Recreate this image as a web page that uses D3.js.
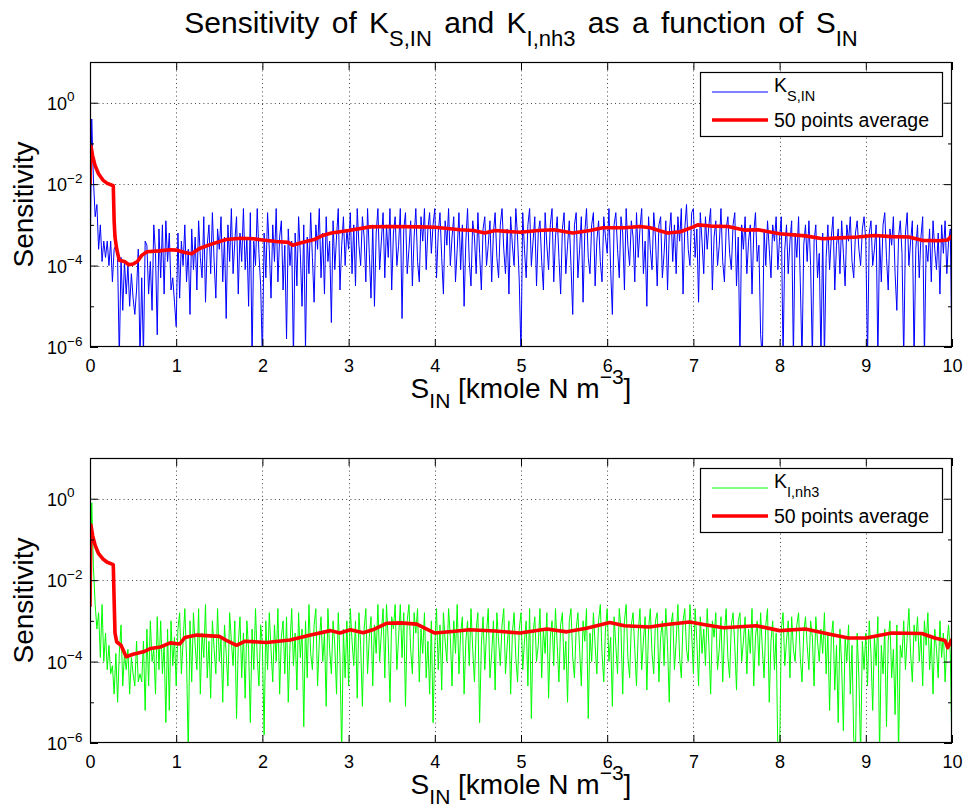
<!DOCTYPE html>
<html><head><meta charset="utf-8">
<script src="https://cdn.jsdelivr.net/npm/d3@7/dist/d3.min.js"></script>
<style>
body{margin:0;background:#fff}
text{font-family:"Liberation Sans",Arial,Helvetica,sans-serif;fill:#000}
</style>
</head><body>
<svg id="c" width="965" height="808"></svg>
<script>
// ---------------- DATA ----------------
const xDomain = [0, 10];
const xTicks = [0,1,2,3,4,5,6,7,8,9,10];
const yMajorExp = [0,-2,-4,-6];
const yMinorExp = [-1,-3,-5];

// K_S,IN sensitivity, log10 values, 501 points evenly spaced over S_IN = 0..10
const ksinExp = [
-4.3,-0.4,-1.9,-2.8,-2.5,-3.6,-3.0,-3.9,-3.4,-3.8,
-3.4,-4.0,-3.4,-4.4,-3.6,-3.5,-3.8,-6.3,-3.8,-5.1,
-3.9,-4.7,-4.0,-5.0,-4.2,-4.8,-5.2,-4.6,-3.6,-6.3,
-4.3,-6.2,-3.4,-3.5,-4.7,-3.9,-5.1,-3.0,-3.7,-5.7,
-3.1,-4.3,-3.0,-4.7,-2.9,-3.9,-3.2,-4.6,-4.3,-4.9,
-5.5,-3.2,-4.8,-3.4,-4.0,-3.0,-4.4,-3.6,-5.2,-3.1,
-4.1,-3.3,-4.6,-2.9,-3.8,-4.3,-2.8,-4.9,-3.5,-3.0,
-4.2,-2.7,-3.9,-4.8,-3.1,-3.6,-2.8,-4.4,-3.3,-5.3,
-3.0,-3.9,-2.6,-4.2,-3.4,-2.8,-4.7,-3.2,-3.9,-2.6,
-4.1,-3.3,-5.0,-2.7,-6.3,-3.4,-4.0,-2.6,-3.7,-4.5,
-6.3,-3.2,-4.3,-2.7,-3.6,-4.8,-3.0,-3.9,-2.6,-4.4,
-3.3,-2.9,-4.6,-3.5,-5.8,-3.1,-4.0,-3.4,-6.3,-3.2,
-4.5,-2.8,-3.7,-5.0,-3.0,-6.1,-3.3,-4.2,-2.7,-3.8,
-4.9,-3.0,-3.6,-2.6,-4.3,-3.2,-4.7,-2.8,-3.9,-3.4,
-5.4,-2.9,-4.1,-3.3,-2.6,-4.6,-3.5,-2.8,-4.0,-3.1,
-3.6,-2.7,-4.2,-3.0,-4.5,-2.6,-3.5,-4.0,-2.8,-3.3,
-4.4,-2.6,-3.7,-4.8,-3.0,-5.0,-3.2,-2.6,-4.1,-3.4,
-2.7,-4.3,-3.0,-3.8,-2.6,-4.6,-3.2,-2.8,-4.0,-3.5,
-2.6,-5.3,-3.1,-2.7,-4.2,-3.6,-2.9,-4.5,-3.3,-2.6,
-3.9,-4.4,-2.8,-3.4,-2.6,-4.1,-3.1,-2.7,-3.7,-3.0,
-2.6,-4.3,-3.2,-2.7,-3.8,-4.7,-2.9,-3.5,-2.6,-4.0,
-3.3,-2.8,-4.4,-3.6,-2.7,-4.1,-3.0,-5.0,-3.4,-2.6,
-3.9,-4.5,-2.9,-3.3,-4.2,-2.7,-3.7,-4.6,-3.1,-2.8,
-4.0,-3.5,-2.9,-4.4,-3.2,-2.7,-3.8,-4.3,-3.0,-2.6,
-3.6,-4.2,-3.1,-4.7,-2.8,-3.5,-4.0,-2.6,-3.3,-4.4,
-6.2,-2.7,-3.6,-4.3,-3.0,-2.6,-4.0,-3.4,-2.8,-4.5,
-3.2,-2.9,-3.9,-4.6,-2.7,-3.5,-4.1,-3.0,-2.6,-4.4,
-3.3,-2.8,-3.8,-4.7,-3.1,-2.7,-4.2,-3.5,-2.9,-4.0,
-5.2,-3.0,-2.7,-4.3,-3.6,-2.8,-4.9,-3.2,-2.6,-3.8,
-4.2,-3.0,-2.7,-4.5,-3.4,-2.9,-3.9,-4.4,-2.8,-3.3,
-3.7,-2.6,-4.1,-5.2,-3.0,-2.7,-3.6,-4.3,-2.8,-3.2,
-4.6,-2.6,-3.5,-4.0,-2.9,-3.3,-4.4,-2.7,-3.8,-3.1,
-2.6,-4.2,-3.4,-5.0,-2.8,-3.6,-4.1,-2.7,-3.3,-4.5,
-3.0,-2.8,-4.3,-3.7,-2.9,-4.6,-3.2,-2.7,-3.9,-3.0,
-4.2,-2.8,-3.4,-2.6,-4.7,-3.1,-2.5,-3.6,-4.0,-2.7,
-2.6,-3.8,-3.1,-4.9,-2.7,-3.4,-4.2,-2.8,-3.6,-3.0,
-2.6,-4.6,-3.3,-2.9,-4.0,-3.5,-2.6,-3.9,-4.4,-3.1,
-2.8,-3.7,-4.1,-3.0,-2.7,-4.5,-3.3,-6.3,-3.0,-3.6,
-2.8,-4.2,-3.4,-3.0,-4.7,-3.2,-2.7,-3.9,-3.5,-5.7,
-6.3,-3.1,-4.0,-2.9,-3.6,-4.3,-3.0,-3.4,-2.8,-4.1,
-3.3,-2.8,-6.3,-3.6,-3.0,-4.2,-3.4,-2.9,-6.3,-3.2,
-3.8,-2.8,-4.4,-6.3,-3.5,-3.0,-3.9,-2.9,-4.0,-6.3,
-3.4,-3.0,-4.3,-3.7,-6.3,-3.2,-6.3,-3.8,-3.0,-4.1,
-3.3,-2.8,-4.6,-3.5,-3.1,-4.2,-2.9,-3.7,-4.5,-3.0,
-3.4,-2.8,-3.9,-4.3,-3.2,-2.9,-3.6,-4.0,-3.1,-2.8,
-3.4,-6.3,-3.2,-2.9,-4.0,-3.6,-3.0,-6.3,-3.3,-4.4,
-3.0,-2.7,-3.8,-4.6,-3.1,-3.5,-2.8,-4.2,-5.1,-3.3,
-2.9,-3.7,-6.3,-3.2,-2.7,-4.0,-3.4,-2.9,-6.3,-3.6,
-3.0,-4.3,-3.3,-2.8,-6.3,-3.5,-3.9,-3.1,-4.4,-2.9,
-3.6,-4.1,-3.2,-4.7,-3.0,-3.7,-2.9,-4.2,-3.4,-3.1,
-6.3];

// K_I,nh3 sensitivity, log10 values, 501 points evenly spaced over S_IN = 0..10
const kinh3Exp = [
-2.9,-0.1,-1.7,-2.6,-3.2,-2.8,-3.9,-2.6,-4.0,-3.3,
-4.2,-3.6,-4.3,-4.1,-4.8,-3.8,-5.0,-3.8,-3.1,-4.6,
-3.8,-4.2,-3.7,-4.8,-3.9,-4.3,-4.6,-3.5,-4.5,-4.3,
-4.5,-3.5,-5.2,-3.2,-4.6,-3.0,-4.0,-3.7,-4.8,-2.9,
-4.2,-3.0,-4.3,-3.6,-5.5,-3.2,-5.2,-3.0,-4.1,-3.4,
-4.6,-3.2,-2.8,-4.3,-3.5,-2.7,-3.9,-6.3,-3.0,-4.5,
-2.8,-3.6,-4.2,-2.7,-4.8,-3.3,-3.9,-2.6,-4.4,-3.5,
-4.9,-3.0,-3.7,-4.3,-2.7,-4.0,-3.4,-5.0,-3.1,-3.8,
-4.6,-2.8,-3.5,-4.1,-3.0,-5.4,-3.6,-2.9,-4.4,-3.3,
-4.9,-3.0,-3.7,-5.5,-3.2,-4.2,-2.7,-3.9,-4.6,-3.1,
-3.6,-5.8,-3.0,-4.2,-2.8,-3.7,-4.5,-3.1,-4.0,-2.7,
-4.8,-3.4,-3.0,-4.3,-2.9,-5.0,-3.6,-2.7,-4.1,-3.3,
-4.7,-2.8,-3.9,-3.2,-5.6,-3.0,-4.4,-2.6,-3.8,-4.2,
-3.1,-2.7,-4.6,-3.5,-2.9,-4.0,-3.3,-5.1,-2.7,-3.7,
-4.3,-3.0,-3.6,-4.8,-2.8,-3.9,-6.3,-3.2,-4.4,-3.0,
-4.6,-2.7,-3.5,-4.1,-3.0,-4.9,-2.8,-3.6,-5.1,-3.2,
-2.7,-4.3,-3.4,-2.9,-4.6,-3.1,-3.8,-2.6,-4.0,-3.3,
-2.7,-4.4,-2.6,-3.5,-5.0,-2.9,-3.2,-2.6,-4.2,-3.4,
-2.6,-3.9,-2.8,-5.1,-3.0,-2.6,-3.7,-4.3,-2.8,-3.3,
-2.7,-4.5,-3.2,-3.8,-2.8,-4.4,-3.5,-4.8,-3.0,-5.5,
-3.6,-2.7,-4.2,-3.1,-4.7,-2.8,-3.5,-4.0,-2.7,-3.4,
-4.6,-3.0,-3.8,-2.6,-4.3,-3.3,-2.9,-4.8,-3.5,-3.0,
-4.1,-2.7,-3.7,-4.5,-3.2,-2.8,-5.5,-3.6,-2.9,-4.2,
-3.3,-2.7,-4.4,-3.8,-3.0,-4.7,-2.8,-3.5,-4.1,-3.1,
-2.7,-4.3,-3.6,-3.0,-4.8,-3.3,-2.8,-3.9,-4.5,-3.2,
-2.8,-4.2,-3.5,-3.0,-4.6,-2.7,-5.4,-3.3,-2.9,-4.0,
-3.6,-2.7,-4.4,-3.2,-3.8,-2.8,-4.9,-3.4,-3.0,-4.1,
-2.7,-3.6,-4.5,-3.1,-2.8,-4.2,-3.5,-5.0,-3.0,-2.7,
-3.9,-4.4,-3.2,-2.8,-3.7,-4.6,-3.0,-3.5,-2.7,-5.4,
-3.3,-4.0,-2.8,-3.6,-4.3,-3.0,-2.6,-3.8,-4.5,-3.2,
-2.7,-4.0,-3.4,-5.1,-2.9,-3.6,-4.3,-2.7,-3.2,-4.8,
-3.0,-2.6,-3.9,-4.4,-3.1,-2.8,-3.7,-4.6,-3.3,-2.7,
-4.2,-3.5,-2.9,-4.7,-3.2,-2.7,-3.8,-4.3,-3.0,-2.8,
-4.5,-3.4,-3.0,-4.1,-2.7,-3.6,-5.0,-3.1,-2.8,-4.2,
-3.5,-2.6,-3.9,-4.4,-3.0,-2.7,-3.7,-4.0,-2.6,-3.3,
-4.3,-2.7,-3.5,-4.6,-2.9,-3.8,-3.2,-4.1,-2.7,-3.6,
-4.8,-3.0,-3.4,-2.8,-4.2,-3.7,-2.9,-4.5,-3.3,-2.7,
-3.9,-4.4,-3.1,-2.8,-3.6,-4.7,-3.0,-2.8,-4.0,-3.5,
-2.9,-4.3,-3.2,-3.8,-2.7,-4.6,-3.4,-3.0,-4.1,-2.8,
-3.7,-4.4,-3.1,-2.7,-5.0,-3.5,-3.0,-4.2,-3.3,-6.3,
-6.3,-3.2,-2.8,-4.1,-3.5,-3.0,-4.4,-2.9,-3.7,-4.0,
-3.1,-2.8,-3.9,-4.5,-3.3,-2.9,-3.6,-4.2,-3.0,-3.4,
-4.6,-2.9,-3.5,-4.0,-3.2,-3.8,-2.8,-4.3,-3.3,-5.2,
-3.4,-3.0,-4.7,-3.6,-5.5,-3.2,-4.1,-5.7,-3.4,-4.0,
-3.1,-4.8,-3.6,-5.9,-6.3,-3.3,-4.4,-6.3,-3.5,-4.2,
-3.3,-4.6,-3.0,-3.8,-5.2,-3.4,-4.1,-2.9,-6.3,-3.6,
-4.3,-3.2,-5.6,-3.5,-3.0,-4.4,-3.7,-5.3,-3.1,-6.3,
-3.6,-3.9,-3.0,-4.2,-3.4,-2.7,-3.8,-4.5,-3.1,-3.5,
-2.9,-4.0,-3.3,-4.6,-3.0,-3.6,-2.8,-4.2,-3.4,-4.8,
-3.2,-3.7,-4.4,-3.0,-3.9,-3.3,-4.5,-3.6,-3.1,-3.8,
-6.3];

// 50 points average: S_IN positions and log10 values
const ksinAvgX   = [0,0.01,0.03,0.06,0.1,0.15,0.2,0.27,0.28,0.29,0.31,0.34,0.4,0.45,0.5,0.55,0.6,0.66,0.8,0.93,1.0,1.1,1.18,1.27,1.4,1.58,1.75,1.89,2.0,2.16,2.3,2.35,2.45,2.6,2.7,2.8,3.0,3.25,3.5,3.83,4.0,4.29,4.45,4.58,4.7,4.83,4.99,5.2,5.38,5.6,5.8,5.95,6.2,6.38,6.5,6.6,6.7,6.85,7.0,7.05,7.2,7.4,7.6,7.75,8.0,8.3,8.5,8.7,8.9,9.1,9.3,9.5,9.65,9.85,9.95,10.0];
const ksinAvgExp = [-2.0,-1.06,-1.3,-1.55,-1.75,-1.9,-1.98,-2.04,-2.9,-3.3,-3.6,-3.87,-3.9,-3.98,-3.96,-3.9,-3.75,-3.66,-3.64,-3.61,-3.62,-3.68,-3.71,-3.58,-3.48,-3.36,-3.33,-3.34,-3.37,-3.41,-3.43,-3.5,-3.44,-3.36,-3.26,-3.2,-3.14,-3.05,-3.04,-3.05,-3.06,-3.12,-3.14,-3.2,-3.14,-3.16,-3.18,-3.14,-3.12,-3.2,-3.14,-3.07,-3.07,-3.04,-3.07,-3.14,-3.2,-3.17,-3.05,-3.0,-3.03,-3.04,-3.13,-3.12,-3.22,-3.27,-3.34,-3.32,-3.3,-3.26,-3.29,-3.3,-3.38,-3.39,-3.37,-3.27];
const kinh3AvgX   = [0,0.01,0.03,0.06,0.1,0.15,0.2,0.27,0.28,0.29,0.31,0.36,0.42,0.5,0.62,0.7,0.82,0.93,1.04,1.1,1.24,1.5,1.6,1.7,1.8,2.05,2.32,2.56,2.79,2.9,3.02,3.17,3.28,3.44,3.6,3.79,4.0,4.2,4.4,4.7,4.99,5.3,5.53,5.76,6.03,6.2,6.49,6.69,6.96,7.15,7.35,7.73,8.0,8.3,8.61,8.8,9.0,9.3,9.65,9.8,9.92,9.95,10.0];
const kinh3AvgExp = [-2.65,-0.64,-0.9,-1.15,-1.35,-1.48,-1.56,-1.62,-2.5,-3.3,-3.52,-3.6,-3.88,-3.82,-3.76,-3.68,-3.64,-3.54,-3.57,-3.41,-3.35,-3.38,-3.5,-3.6,-3.5,-3.53,-3.47,-3.35,-3.24,-3.3,-3.22,-3.29,-3.22,-3.06,-3.05,-3.08,-3.3,-3.26,-3.22,-3.25,-3.3,-3.2,-3.27,-3.18,-3.04,-3.12,-3.15,-3.09,-3.03,-3.1,-3.17,-3.12,-3.24,-3.2,-3.34,-3.42,-3.42,-3.3,-3.31,-3.42,-3.48,-3.66,-3.45];

// ---------------- DRAWING ----------------
const svg = d3.select("#c");
const X0 = 90, X1 = 952;
const x = d3.scaleLinear().domain(xDomain).range([X0, X1]);
const FONT_TICK = 18, FONT_LAB = 28, FONT_LEG = 19.5;

// title
const title = svg.append("text").attr("x", (X0+X1)/2).attr("y", 33)
  .attr("text-anchor","middle").style("font-size", "30px").style("word-spacing","4px");
function rich(t, parts, base, small, shift){
  let cur = 0;
  parts.forEach(([s, m]) => {
    const target = m===1 ? shift : 0;
    t.append("tspan").attr("dy", target - cur)
      .style("font-size", (m===0?base:small)+"px").text(s);
    cur = target;
  });
}
rich(title, [["Sensitivity of K",0],["S,IN",1],[" and K",0],["I,nh3",1],[" as a function of S",0],["IN",1]], 30, 22, 13);

const panels = [
  {top:62, bottom:347, noise:ksinExp, color:"#0000ff", avgX:ksinAvgX, avgE:ksinAvgExp, sub:"S,IN", id:"a"},
  {top:458, bottom:743, noise:kinh3Exp, color:"#00ff00", avgX:kinh3AvgX, avgE:kinh3AvgExp, sub:"I,nh3", id:"b"}
];

panels.forEach(p => {
  const y = d3.scaleLog().domain([1e-6, 10]).range([p.bottom, p.top]);
  const g = svg.append("g");
  const H = p.bottom - p.top;

  svg.append("clipPath").attr("id","clip"+p.id).append("rect")
    .attr("x", X0).attr("y", p.top).attr("width", X1-X0).attr("height", H);

  // grid
  const grid = g.append("g").attr("stroke","#444").attr("stroke-width",1)
    .attr("stroke-dasharray","1,3.2");
  grid.selectAll("line.v").data(xTicks.filter(t=>t>0&&t<10)).join("line")
    .attr("x1", d=>Math.round(x(d))+0.5).attr("x2", d=>Math.round(x(d))+0.5)
    .attr("y1", p.top).attr("y2", p.bottom);
  grid.selectAll("line.h").data(yMajorExp.filter(e=>e>-6)).join("line")
    .attr("y1", d=>Math.round(y(10**d))+0.5).attr("y2", d=>Math.round(y(10**d))+0.5)
    .attr("x1", X0).attr("x2", X1);

  // noise series
  const n = p.noise.length;
  const line = d3.line().x((d,i)=>x(xDomain[0] + i*(xDomain[1]-xDomain[0])/(n-1))).y(d=>y(10**d));
  g.append("path").datum(p.noise).attr("clip-path","url(#clip"+p.id+")")
    .attr("d", line).attr("fill","none").attr("stroke", p.color).attr("stroke-width",1);

  // average
  const avgLine = d3.line().x(d=>x(d[0])).y(d=>y(10**d[1]));
  g.append("path").datum(p.avgX.map((v,i)=>[v,p.avgE[i]])).attr("clip-path","url(#clip"+p.id+")")
    .attr("d", avgLine).attr("fill","none").attr("stroke","#ff0000")
    .attr("stroke-width",3.6).attr("stroke-linejoin","round");

  // axes (ticks inside)
  const styleAxis = sel => { sel.select(".domain").remove(); sel.selectAll("line").attr("stroke","#000"); };
  const xb = g.append("g").attr("transform",`translate(0,${p.bottom})`)
    .call(d3.axisBottom(x).tickValues(xTicks).tickSize(-8).tickSizeOuter(0).tickPadding(0).tickFormat(d3.format("d")))
    .call(styleAxis);
  xb.selectAll("text").attr("y", 25).attr("dy", null).style("font-size", FONT_TICK+"px")
    .style("font-family",'"Liberation Sans",Arial,sans-serif');
  g.append("g").attr("transform",`translate(0,${p.top})`)
    .call(d3.axisTop(x).tickValues(xTicks).tickSize(-8).tickSizeOuter(0).tickFormat(""))
    .call(styleAxis);
  const yl = g.append("g").attr("transform",`translate(${X0},0)`)
    .call(d3.axisLeft(y).tickValues(yMajorExp.map(e=>10**e)).tickSize(-8).tickSizeOuter(0).tickFormat(""))
    .call(styleAxis);
  g.append("g").attr("transform",`translate(${X0},0)`)
    .call(d3.axisLeft(y).tickValues(yMinorExp.map(e=>10**e)).tickSize(-4).tickSizeOuter(0).tickFormat(""))
    .call(styleAxis);
  g.append("g").attr("transform",`translate(${X1},0)`)
    .call(d3.axisRight(y).tickValues(yMajorExp.map(e=>10**e)).tickSize(-8).tickSizeOuter(0).tickFormat(""))
    .call(styleAxis);
  g.append("g").attr("transform",`translate(${X1},0)`)
    .call(d3.axisRight(y).tickValues(yMinorExp.map(e=>10**e)).tickSize(-4).tickSizeOuter(0).tickFormat(""))
    .call(styleAxis);
  // y tick labels 10^e
  yl.selectAll(".tick").each(function(d){
    const e = Math.round(Math.log10(d));
    const t = d3.select(this).append("text").attr("x", -43).attr("y", 6.5)
      .attr("text-anchor","start").style("font-size", FONT_TICK+"px");
    t.append("tspan").text("10");
    t.append("tspan").attr("dy", -8.5).style("font-size","13.5px").text(e===0 ? "0" : "\u2212"+(-e));
  });

  // box
  g.append("rect").attr("x", X0+0.5).attr("y", p.top+0.5).attr("width", X1-X0-1).attr("height", H-1)
    .attr("fill","none").attr("stroke","#000").attr("stroke-width",1.2);

  // y label
  svg.append("text").attr("transform",`translate(33,${(p.top+p.bottom)/2}) rotate(-90)`)
    .attr("text-anchor","middle").style("font-size", FONT_LAB+"px").text("Sensitivity");

  // x label
  const xl = svg.append("text").attr("x", (X0+X1)/2).attr("y", p.bottom+51)
    .attr("text-anchor","middle").style("font-size", FONT_LAB+"px");
  let cur = 0;
  [["S",0],["IN",10],[" [kmole N m",0],["\u22123",-14],["]",0]].forEach(([s,sh])=>{
    xl.append("tspan").attr("dy", sh-cur).style("font-size",(sh===0?FONT_LAB:21)+"px").text(s);
    cur = sh;
  });

  // legend
  const LT = p.top + 10, LL = 700, LW = 242, LH = 64;
  const lg = g.append("g");
  lg.append("rect").attr("x", LL+0.5).attr("y", LT+0.5).attr("width", LW).attr("height", LH)
    .attr("fill","#fff").attr("stroke","#000").attr("stroke-width",1.2);
  const ly1 = LT + 20, ly2 = LT + 48;
  lg.append("line").attr("x1", LL+12).attr("x2", LL+68).attr("y1", ly1).attr("y2", ly1)
    .attr("stroke", p.color).attr("stroke-width",1);
  lg.append("line").attr("x1", LL+12).attr("x2", LL+68).attr("y1", ly2).attr("y2", ly2)
    .attr("stroke", "#ff0000").attr("stroke-width",3.6);
  const lt1 = lg.append("text").attr("x", LL+74).attr("y", ly1).style("font-size", FONT_LEG+"px");
  lt1.append("tspan").text("K");
  lt1.append("tspan").attr("dy", 9).style("font-size","14.5px").text(p.sub);
  lg.append("text").attr("x", LL+74).attr("y", ly2+7).style("font-size", FONT_LEG+"px").text("50 points average");
});
</script>
</body></html>
